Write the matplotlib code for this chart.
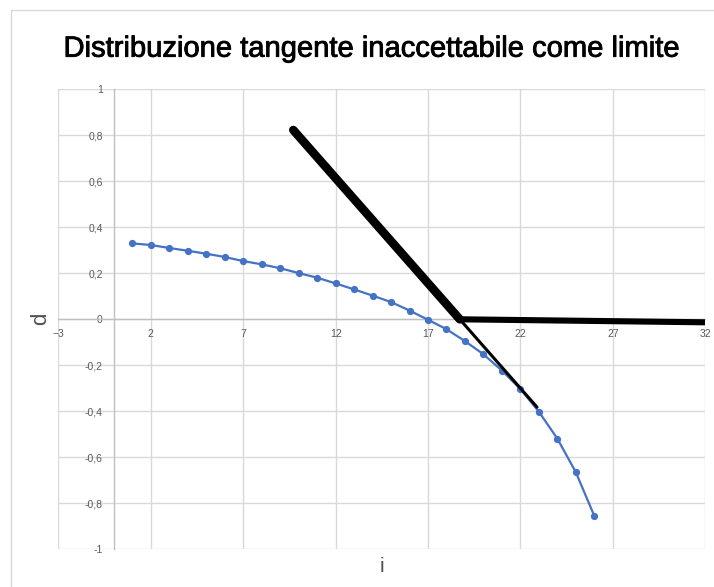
import matplotlib
matplotlib.use("Agg")
import matplotlib.pyplot as plt
import matplotlib.patheffects as pe
from matplotlib.patches import Rectangle
from matplotlib.ticker import FuncFormatter

plt.rcParams['font.family'] = ['Liberation Sans', 'DejaVu Sans']

# curve values d(i)
i_vals = list(range(1, 27))
d_vals = [0.330, 0.323, 0.310, 0.298, 0.285, 0.271, 0.253, 0.239, 0.222, 0.201,
          0.181, 0.156, 0.130, 0.103, 0.075, 0.038, -0.002, -0.043, -0.095, -0.152,
          -0.223, -0.303, -0.402, -0.519, -0.665, -0.855]

# tangent line (thick part to where it meets d = 0, then thin part)
tan_thick_x = [9.71, 18.72]
tan_thick_y = [0.823, 0.0]
tan_thin_x = [18.72, 22.9]
tan_thin_y = [0.0, -0.382]

# flat limit line
flat_x = [18.72, 31.95]
flat_y = [0.0, -0.013]

x_ticks = [-3, 2, 7, 12, 17, 22, 27, 32]
y_ticks = [-1, -0.8, -0.6, -0.4, -0.2, 0, 0.2, 0.4, 0.6, 0.8, 1]

W, H = 714, 587
fig = plt.figure(figsize=(W / 100, H / 100), dpi=100)
fig.patches.append(Rectangle((11 / W, -0.1), 1.2, 1.1 - 10 / H, transform=fig.transFigure,
                             fill=False, edgecolor='#d9d9d9', lw=1))

left, right, top, bottom = 58.4, 705.2, 89.3, 549.3
ax = fig.add_axes([left / W, 1 - bottom / H, (right - left) / W, (bottom - top) / H])
ax.set_xlim(-3, 32)
ax.set_ylim(-1, 1)

ax.set_xticks(x_ticks)
ax.set_yticks(y_ticks)
ax.grid(True, color='#d9d9d9', lw=1)
ax.set_axisbelow(True)

for s in ['top', 'right']:
    ax.spines[s].set_visible(False)
ax.spines['left'].set_position(('data', 0))
ax.spines['bottom'].set_position(('data', 0))
for s in ['left', 'bottom']:
    ax.spines[s].set_color('#bfbfbf')
    ax.spines[s].set_linewidth(1)

ax.tick_params(length=0, labelsize=7.5, labelcolor='#595959')
ax.tick_params(axis='y', pad=8)
ax.tick_params(axis='x', pad=7)
ax.yaxis.set_major_formatter(FuncFormatter(lambda v, p: f"{v:g}".replace('.', ',')))

ax.plot(i_vals, d_vals, color='#4472C4', lw=1.6, marker='o', markersize=4.2, zorder=3)
ax.plot(tan_thin_x, tan_thin_y, color='black', lw=2.2, solid_capstyle='round', zorder=4)
ax.plot(tan_thick_x, tan_thick_y, color='black', lw=6.2, solid_capstyle='round', zorder=4)
ax.plot(flat_x, flat_y, color='black', lw=4.4, solid_capstyle='round', zorder=4)

fig.text(371.5 / W, 1 - 56.7 / H, 'Distribuzione tangente inaccettabile come limite',
         ha='center', va='baseline', fontsize=21, color='black',
         path_effects=[pe.withStroke(linewidth=0.6, foreground='black')])
fig.text(41 / W, 1 - 319 / H, 'd', rotation=90, ha='center', va='center',
         fontsize=16, color='#505050')
fig.text(382 / W, 1 - 567 / H, 'i', ha='center', va='center', fontsize=15, color='#505050')

fig.savefig('out.png', dpi=100)
